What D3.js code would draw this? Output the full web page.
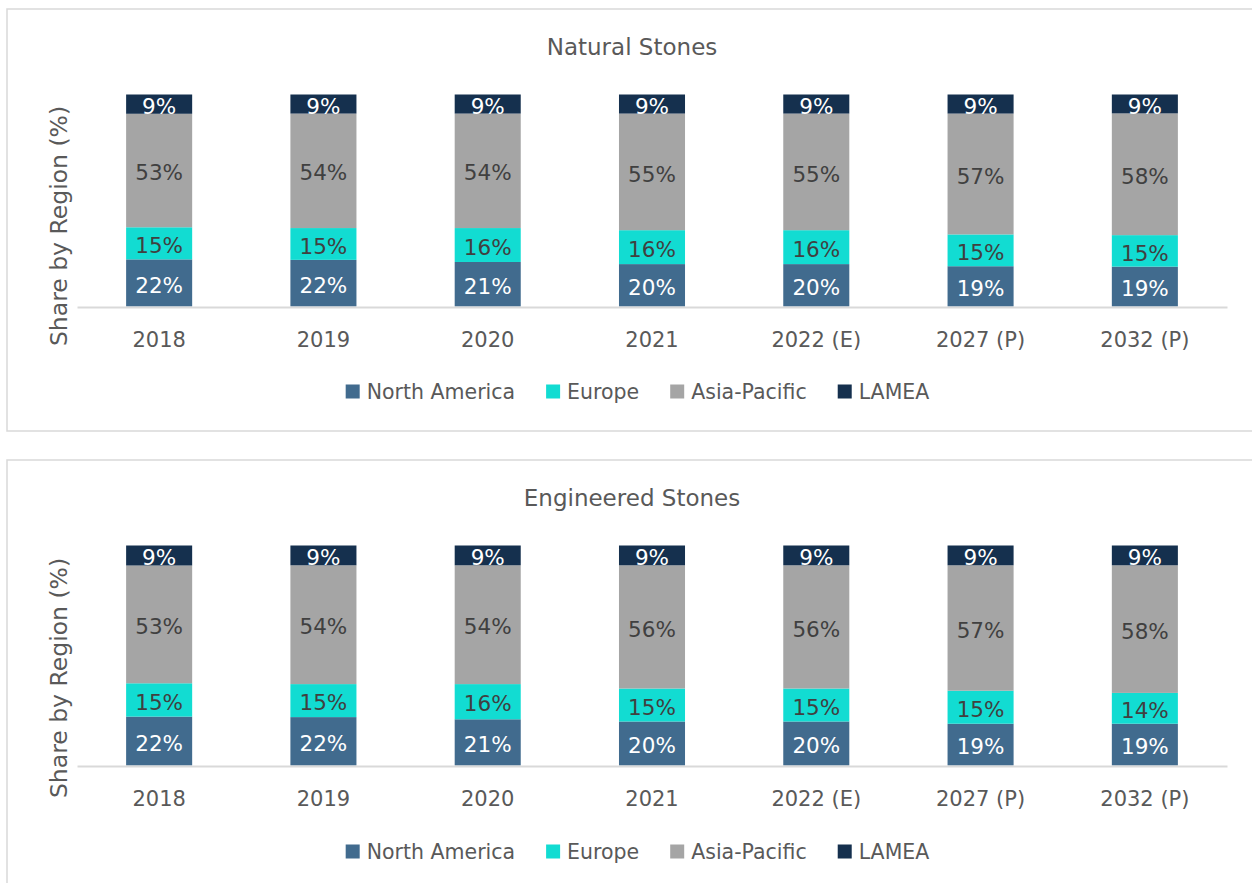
<!DOCTYPE html>
<html>
<head>
<meta charset="utf-8">
<script src="https://cdn.jsdelivr.net/npm/d3@7"></script>
<style>
  html, body { margin: 0; padding: 0; background: #fff; }
  svg { display: block; font-family: "DejaVu Sans", Verdana, sans-serif; }
</style>
</head>
<body>
<svg id="chart" width="1252" height="883"></svg>
<script>
// ---- data ----
const categories = ["2018", "2019", "2020", "2021", "2022 (E)", "2027 (P)", "2032 (P)"];
const regions = ["North America", "Europe", "Asia-Pacific", "LAMEA"];

const naturalNorthAmerica = [22, 22, 21, 20, 20, 19, 19];
const naturalEurope       = [15, 15, 16, 16, 16, 15, 15];
const naturalAsiaPacific  = [53, 54, 54, 55, 55, 57, 58];
const naturalLAMEA        = [9, 9, 9, 9, 9, 9, 9];

const engineeredNorthAmerica = [22, 22, 21, 20, 20, 19, 19];
const engineeredEurope       = [15, 15, 16, 15, 15, 15, 14];
const engineeredAsiaPacific  = [53, 54, 54, 56, 56, 57, 58];
const engineeredLAMEA        = [9, 9, 9, 9, 9, 9, 9];

const panelTitles = ["Natural Stones", "Engineered Stones"];
const yAxisTitle = "Share by Region (%)";

// ---- styles ----
const colors = ["#416b8e", "#12dcd2", "#a5a5a5", "#15304e"];
const labelColors = ["#ffffff", "#404040", "#404040", "#ffffff"];

const svg = d3.select("#chart");

function buildRows(na, eu, ap, la) {
  return categories.map((c, i) => ({
    cat: c,
    "North America": na[i], "Europe": eu[i], "Asia-Pacific": ap[i], "LAMEA": la[i]
  }));
}

const panels = [
  { title: panelTitles[0], rows: buildRows(naturalNorthAmerica, naturalEurope, naturalAsiaPacific, naturalLAMEA),
    top: 9, height: 422, titleY: 55, plotTop: 94.5, plotBottom: 306.5, yLabelY: 226, legendY: 392 },
  { title: panelTitles[1], rows: buildRows(engineeredNorthAmerica, engineeredEurope, engineeredAsiaPacific, engineeredLAMEA),
    top: 460, height: 440, titleY: 505.5, plotTop: 545.5, plotBottom: 765.5, yLabelY: 678, legendY: 852 }
];

const x = d3.scaleBand().domain(categories).range([77, 1227]).paddingInner(0.598).paddingOuter(0.299);
const stack = d3.stack().keys(regions).offset(d3.stackOffsetExpand);

panels.forEach(p => {
  const g = svg.append("g");
  g.append("rect")
    .attr("x", 7).attr("y", p.top).attr("width", 1252).attr("height", p.height)
    .attr("fill", "none").attr("stroke", "#d9d9d9").attr("stroke-width", 1.5);

  g.append("text")
    .attr("x", 632).attr("y", p.titleY)
    .attr("text-anchor", "middle")
    .attr("font-size", 23).attr("fill", "#595959")
    .text(p.title);

  g.append("text")
    .attr("transform", `translate(67,${p.yLabelY}) rotate(-90)`)
    .attr("text-anchor", "middle")
    .attr("font-size", 23.5).attr("fill", "#595959")
    .text(yAxisTitle);

  const y = d3.scaleLinear().domain([0, 1]).range([p.plotBottom, p.plotTop]);
  const series = stack(p.rows);

  const sg = g.selectAll("g.series").data(series).join("g").attr("class", "series")
    .attr("fill", (d, i) => colors[i]);

  sg.selectAll("rect").data(d => d).join("rect")
    .attr("x", d => x(d.data.cat))
    .attr("width", x.bandwidth())
    .attr("y", d => y(d[1]))
    .attr("height", d => y(d[0]) - y(d[1]));

  sg.selectAll("text").data((d, i) => d.map(v => ({ v, key: d.key, i })))
    .join("text")
    .attr("x", d => x(d.v.data.cat) + x.bandwidth() / 2)
    .attr("y", d => (y(d.v[0]) + y(d.v[1])) / 2)
    .attr("dy", "0.45em")
    .attr("text-anchor", "middle")
    .attr("font-size", 21.5)
    .attr("fill", d => labelColors[d.i])
    .text(d => d.v.data[d.key] + "%");

  const axis = g.append("g")
    .attr("transform", `translate(0,${p.plotBottom + 0.5})`)
    .call(d3.axisBottom(x).tickSize(0).tickPadding(25.5));
  axis.select(".domain").attr("stroke", "#d9d9d9").attr("stroke-width", 2);
  axis.selectAll("text").attr("font-size", 21).attr("fill", "#595959")
    .attr("font-family", "DejaVu Sans, Verdana, sans-serif");

  // legend
  const lg = g.append("g");
  let cx = 0;
  regions.forEach((r, i) => {
    const item = lg.append("g").attr("transform", `translate(${cx},0)`);
    item.append("rect").attr("x", 0).attr("y", -7.5).attr("width", 14).attr("height", 14).attr("fill", colors[i]);
    const t = item.append("text").attr("x", 21).attr("y", 0).attr("dy", "0.36em")
      .attr("font-size", 20.5).attr("fill", "#595959").text(r);
    cx += 21 + t.node().getComputedTextLength() + 31;
  });
  const totalW = cx - 31;
  lg.attr("transform", `translate(${637.5 - totalW / 2},${p.legendY})`);
});
</script>
</body>
</html>
